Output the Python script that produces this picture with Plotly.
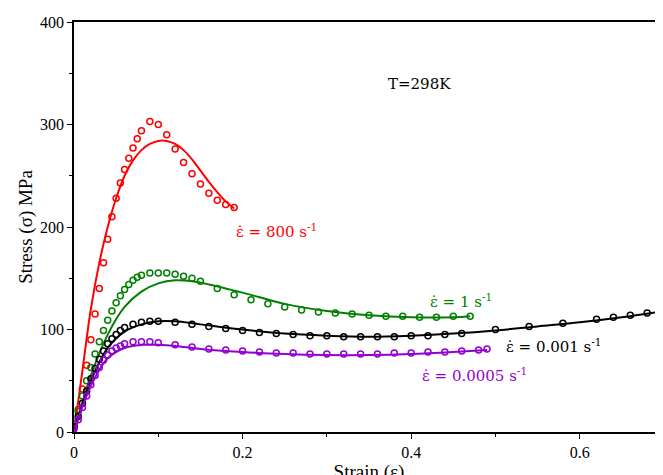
import plotly.graph_objects as go

# 800 /s
red_x = [0.0, 0.005, 0.01, 0.015, 0.02, 0.025, 0.03, 0.035, 0.04, 0.045, 0.05, 0.055, 0.06, 0.065, 0.07, 0.075, 0.08, 0.09, 0.1, 0.11, 0.12, 0.13, 0.14, 0.15, 0.16, 0.17, 0.18, 0.19]
red_y = [5, 22, 42, 65, 90, 115, 140, 165, 188, 210, 228, 243, 256, 267, 277, 286, 294, 303, 300, 290, 276, 263, 252, 242, 233, 226, 222, 219]
red_lx = [0.0, 0.01, 0.02, 0.03, 0.04, 0.05, 0.06, 0.07, 0.08, 0.09, 0.1, 0.11, 0.12, 0.13, 0.14, 0.15, 0.16, 0.17, 0.18, 0.19]
red_ly = [0, 60, 120, 165, 200, 228, 250, 265, 275, 281, 284, 284, 281, 275, 266, 255, 244, 234, 225, 218]

# 1 /s
grn_x = [0.0, 0.005, 0.01, 0.015, 0.02, 0.025, 0.03, 0.035, 0.04, 0.045, 0.05, 0.055, 0.06, 0.065, 0.07, 0.075, 0.08, 0.09, 0.1, 0.11, 0.12, 0.13, 0.14, 0.15, 0.17, 0.19, 0.21, 0.23, 0.25, 0.27, 0.29, 0.31, 0.33, 0.35, 0.37, 0.39, 0.41, 0.43, 0.45, 0.47]
grn_y = [8, 20, 35, 50, 63, 76, 88, 99, 109, 118, 126, 133, 139, 144, 148, 151, 153, 155, 155, 155, 154, 152, 150, 147, 140, 134, 129, 125, 122, 119, 117, 116, 115, 114, 113, 113, 112, 112, 113, 113]
grn_lx = [0.0, 0.02, 0.04, 0.06, 0.08, 0.1, 0.12, 0.14, 0.16, 0.2, 0.25, 0.3, 0.35, 0.4, 0.45, 0.47]
grn_ly = [0, 55, 95, 122, 137, 145, 148, 147, 144, 136, 125, 118, 114, 112, 112, 113]

# 0.001 /s
blk_x = [0.0, 0.005, 0.01, 0.015, 0.02, 0.025, 0.03, 0.035, 0.04, 0.045, 0.05, 0.055, 0.06, 0.07, 0.08, 0.09, 0.1, 0.12, 0.14, 0.16, 0.18, 0.2, 0.22, 0.24, 0.26, 0.28, 0.3, 0.32, 0.34, 0.36, 0.38, 0.4, 0.42, 0.44, 0.46, 0.5, 0.54, 0.58, 0.62, 0.64, 0.66, 0.68, 0.7]
blk_y = [5, 15, 28, 40, 52, 62, 71, 79, 86, 91, 95, 99, 102, 105, 107, 108, 108, 107, 105, 103, 101, 99, 97, 96, 95, 94, 94, 93, 93, 93, 93, 94, 94, 95, 96, 100, 103, 106, 110, 112, 114, 116, 118]
blk_lx = [0.0, 0.02, 0.04, 0.06, 0.08, 0.1, 0.12, 0.15, 0.2, 0.25, 0.3, 0.35, 0.4, 0.45, 0.5, 0.55, 0.6, 0.65, 0.7]
blk_ly = [0, 50, 82, 98, 105, 108, 108, 105, 100, 96, 94, 93, 94, 96, 99, 103, 107, 112, 118]

# 0.0005 /s
pur_x = [0.0, 0.005, 0.01, 0.015, 0.02, 0.025, 0.03, 0.035, 0.04, 0.045, 0.05, 0.055, 0.06, 0.07, 0.08, 0.09, 0.1, 0.12, 0.14, 0.16, 0.18, 0.2, 0.22, 0.24, 0.26, 0.28, 0.3, 0.32, 0.34, 0.36, 0.38, 0.4, 0.42, 0.44, 0.46, 0.48, 0.49]
pur_y = [3, 12, 24, 35, 46, 55, 63, 70, 75, 79, 82, 84, 86, 88, 88, 88, 87, 85, 83, 81, 80, 79, 78, 77, 77, 76, 76, 76, 76, 76, 77, 77, 78, 78, 79, 80, 81]
pur_lx = [0.0, 0.02, 0.04, 0.06, 0.08, 0.1, 0.12, 0.15, 0.2, 0.25, 0.3, 0.35, 0.4, 0.45, 0.49]
pur_ly = [0, 45, 72, 82, 85, 85, 84, 81, 78, 76, 75, 75, 76, 78, 80]

series = [
    (red_x, red_y, red_lx, red_ly, "#ff0000"),
    (grn_x, grn_y, grn_lx, grn_ly, "#008000"),
    (blk_x, blk_y, blk_lx, blk_ly, "#000000"),
    (pur_x, pur_y, pur_lx, pur_ly, "#9400d3"),
]

fig = go.Figure()
for x, y, lx, ly, c in series:
    fig.add_trace(go.Scatter(x=lx, y=ly, mode="lines", line=dict(color=c, width=2, shape="spline"), showlegend=False))
    fig.add_trace(go.Scatter(x=x, y=y, mode="markers", showlegend=False,
                             marker=dict(symbol="circle-open", size=6, color=c, line=dict(width=1.5, color=c))))

font = dict(family="DejaVu Serif, serif", size=15)
notes = [
    (0.19, 196, "ε̇ = 800 s<sup>-1</sup>", "#ff0000"),
    (0.42, 128, "ε̇ = 1 s<sup>-1</sup>", "#008000"),
    (0.51, 84, "ε̇ = 0.001 s<sup>-1</sup>", "#000000"),
    (0.41, 56, "ε̇ = 0.0005 s<sup>-1</sup>", "#9400d3"),
    (0.37, 340, "T=298K", "#000000"),
]
for x, y, t, c in notes:
    fig.add_annotation(x=x, y=y, text=t, showarrow=False, xanchor="left", font=dict(color=c, **font))

ax = dict(showline=True, linecolor="black", linewidth=1.5, mirror=True, ticks="outside", automargin=False,
          tickcolor="black", showgrid=False, zeroline=False, minor=dict(ticks="outside", ticklen=3, tickcolor="black"))
fig.update_xaxes(range=[0, 0.7], dtick=0.2, title=dict(text="Strain (ε)", standoff=0), minor_dtick=0.1, **ax)
fig.update_yaxes(range=[0, 400], dtick=100, title=dict(text="Stress (σ) MPa", standoff=2), minor_dtick=50, **ax)
fig.update_layout(width=663, height=475, plot_bgcolor="white", paper_bgcolor="white",
                  font=dict(family="Liberation Serif, Times New Roman, serif", size=16, color="black"),
                  margin=dict(l=66, r=7, t=14, b=51, autoexpand=False))
fig.write_html("out.html")
